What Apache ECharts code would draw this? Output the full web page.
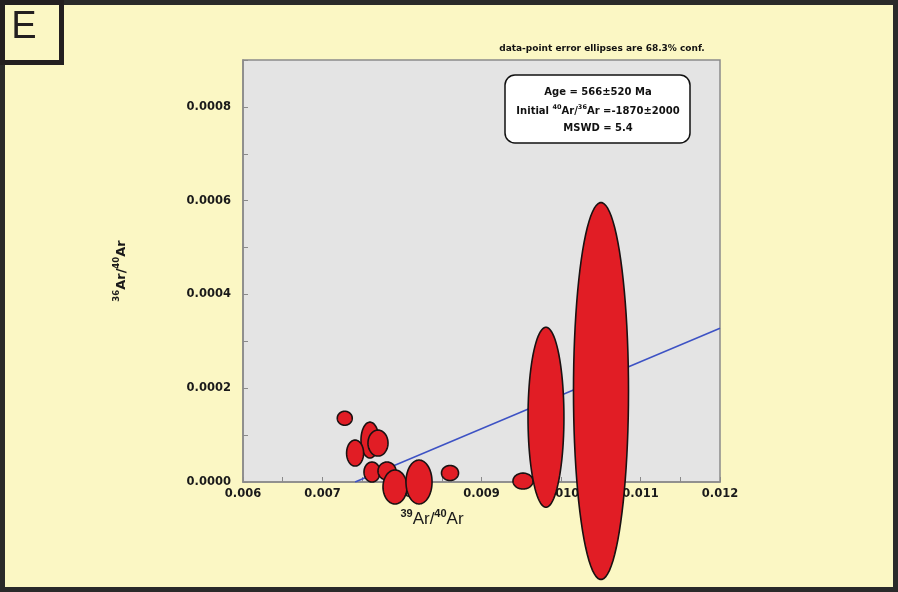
<!DOCTYPE html>
<html>
<head>
<meta charset="utf-8">
<script src="https://cdn.jsdelivr.net/npm/echarts@6/dist/echarts.min.js"></script>
<style>
html,body{margin:0;padding:0;background:#fbf7c4;}
#c{width:898px;height:592px;}
</style>
</head>
<body>
<div id="c"></div>
<script>
// ---- data ----
const ellipseX  = [0.00728, 0.007597, 0.00741, 0.007698, 0.007623, 0.007811, 0.007912, 0.008214, 0.008604, 0.009522, 0.009811, 0.010503];
const ellipseY  = [0.000136, 0.0000894, 0.0000617, 0.000083, 0.0000213, 0.0000234, -0.0000106, 0.0, 0.0000192, 0.0000020, 0.000138, 0.000194];
const ellipseRX = [0.000094, 0.000113, 0.000107, 0.000126, 0.000101, 0.000113, 0.000151, 0.000164, 0.000107, 0.000126, 0.000226, 0.000346];
const ellipseRY = [0.0000149, 0.0000383, 0.0000277, 0.0000277, 0.0000213, 0.0000192, 0.0000362, 0.0000468, 0.000016, 0.000017, 0.000192, 0.000402];
const lineX = [0.00741, 0.012];
const lineY = [0.0, 0.000328];
const xMin = 0.006, xMax = 0.012, xStep = 0.0005;
const yMin = 0.0, yMax = 0.0009, yStep = 0.0001;
const annotationLine1 = 'Age = 566±520 Ma';
const annotationLine2 = '{n|Initial }{s|40}{n|Ar/}{s|36}{n|Ar =-1870±2000}';
const annotationLine3 = 'MSWD = 5.4';
const noteText = 'data-point error ellipses are 68.3% conf.';
const panelLetter = 'E';
const xName = '{s|39}{n|Ar/}{s|40}{n|Ar}';
const yName = '{s|36}{n|Ar/}{s|40}{n|Ar}';

const ellipseData = ellipseX.map((x, i) => [x, ellipseY[i], ellipseRX[i], ellipseRY[i]]);
const lineData = lineX.map((x, i) => [x, lineY[i]]);

const chart = echarts.init(document.getElementById('c'));
const FONT = '"Liberation Sans", Arial, sans-serif';
const DJ = '"DejaVu Sans", sans-serif';

chart.setOption({
  backgroundColor: '#fbf7c4',
  animation: false,
  grid: {
    left: 243, right: 178, top: 60, bottom: 110,
    show: true, backgroundColor: '#e4e4e4', borderColor: '#8a8a8a', borderWidth: 1.5
  },
  xAxis: {
    type: 'value', min: xMin, max: xMax, interval: xStep,
    axisLine: { show: true, onZero: false, lineStyle: { color: '#8a8a8a', width: 1.5 } },
    axisTick: { show: true, inside: true, length: 5, lineStyle: { color: '#8a8a8a' } },
    splitLine: { show: false },
    axisLabel: {
      margin: 6, color: '#1a1a1a', fontFamily: DJ, fontWeight: 'bold', fontSize: 11.5,
      formatter: v => (Math.round(v / xStep) % 2 === 0 ? v.toFixed(3) : '')
    }
  },
  yAxis: {
    type: 'value', min: yMin, max: yMax, interval: yStep,
    name: yName, nameLocation: 'middle', nameGap: 115, nameRotate: 90,
    nameTextStyle: {
      color: '#1a1a1a', fontFamily: DJ, fontWeight: 'bold', fontSize: 13,
      rich: {
        n: { fontFamily: DJ, fontWeight: 'bold', fontSize: 13, lineHeight: 16, verticalAlign: 'bottom', color: '#1a1a1a' },
        s: { fontFamily: DJ, fontWeight: 'bold', fontSize: 8.5, lineHeight: 16, verticalAlign: 'top', color: '#1a1a1a' }
      }
    },
    axisLine: { show: true, lineStyle: { color: '#8a8a8a', width: 1.5 } },
    axisTick: { show: true, inside: true, length: 5, lineStyle: { color: '#8a8a8a' } },
    splitLine: { show: false },
    axisLabel: {
      margin: 12, color: '#1a1a1a', fontFamily: DJ, fontWeight: 'bold', fontSize: 11.5,
      formatter: v => {
        const k = Math.round(v / yStep);
        return (k % 2 === 0 && v < yMax - 1e-9) ? v.toFixed(4) : '';
      }
    }
  },
  series: [
    {
      type: 'line', data: lineData, showSymbol: false, symbol: 'none', z: 2,
      lineStyle: { color: '#3d52c4', width: 1.5 }, silent: true
    },
    {
      type: 'custom', z: 3, clip: false,
      encode: { x: 0, y: 1 },
      data: ellipseData,
      renderItem: function (params, api) {
        const cx = api.value(0), cy = api.value(1), rx = api.value(2), ry = api.value(3);
        const pts = [];
        const n = 90;
        for (let k = 0; k < n; k++) {
          const t = k / n * Math.PI * 2;
          pts.push(api.coord([cx + rx * Math.cos(t), cy + ry * Math.sin(t)]));
        }
        return {
          type: 'polygon', shape: { points: pts },
          style: { fill: '#e11d25', stroke: '#1a1212', lineWidth: 1.6 }
        };
      }
    }
  ],
  graphic: [
    { type: 'rect', z: -10, silent: true, shape: { x: 2.5, y: 2.5, width: 893, height: 587 },
      style: { fill: null, stroke: '#2a2a2a', lineWidth: 5 } },
    { type: 'rect', z: 10, silent: true, shape: { x: 2.5, y: 2.5, width: 59, height: 60 },
      style: { fill: '#fbf7c4', stroke: '#231f20', lineWidth: 5 } },
    { type: 'text', z: 11, x: 24, y: 28, silent: true,
      style: { text: panelLetter, font: '38px ' + FONT, fill: '#231f20', align: 'center', verticalAlign: 'middle' } },
    { type: 'text', z: 11, silent: true, x: 602, y: 49,
      style: { text: noteText, font: 'bold 9px ' + DJ, fill: '#111', align: 'center', verticalAlign: 'middle' } },
    { type: 'rect', z: 11, silent: true, shape: { x: 505, y: 75, width: 185, height: 68, r: 10 },
      style: { fill: '#ffffff', stroke: '#111', lineWidth: 1.5 } },
    { type: 'text', z: 12, silent: true, x: 598, y: 92,
      style: { text: annotationLine1, font: 'bold 10px ' + DJ, fill: '#111', align: 'center', verticalAlign: 'middle' } },
    { type: 'text', z: 12, silent: true, x: 598, y: 110,
      style: { text: annotationLine2, align: 'center', verticalAlign: 'middle',
        rich: {
          n: { fontFamily: DJ, fontWeight: 'bold', fontSize: 10, lineHeight: 13, verticalAlign: 'bottom', fill: '#111', color: '#111' },
          s: { fontFamily: DJ, fontWeight: 'bold', fontSize: 6.5, lineHeight: 13, verticalAlign: 'top', fill: '#111', color: '#111' }
        } } },
    { type: 'text', z: 12, silent: true, x: 598, y: 128,
      style: { text: annotationLine3, font: 'bold 10px ' + DJ, fill: '#111', align: 'center', verticalAlign: 'middle' } },
    { type: 'text', z: 12, silent: true, x: 432, y: 518,
      style: { text: xName, align: 'center', verticalAlign: 'middle',
        rich: {
          n: { fontFamily: FONT, fontSize: 17, lineHeight: 20, verticalAlign: 'bottom', fill: '#1a1a1a', color: '#1a1a1a' },
          s: { fontFamily: FONT, fontWeight: 'bold', fontSize: 11, lineHeight: 20, verticalAlign: 'top', fill: '#1a1a1a', color: '#1a1a1a' }
        } } }
  ]
});
</script>
</body>
</html>
